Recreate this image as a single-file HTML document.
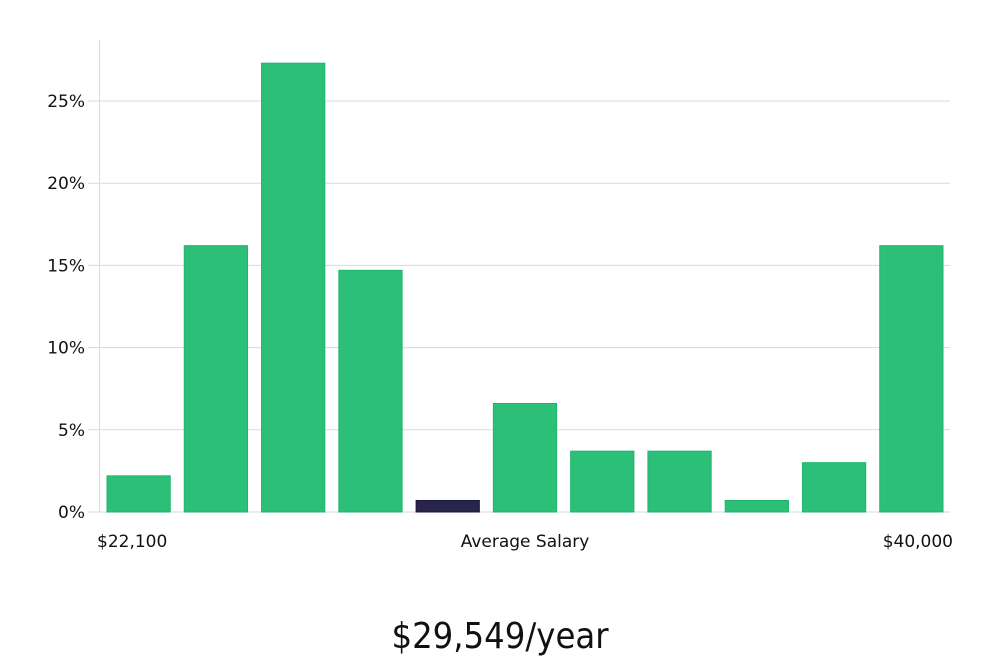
<!DOCTYPE html>
<html><head><meta charset="utf-8"><style>
body{margin:0;background:#fff;width:1000px;height:660px;overflow:hidden}
svg text{font-family:"DejaVu Sans","Liberation Sans",sans-serif}
</style></head><body>
<svg id="chart" width="1000" height="660" xmlns="http://www.w3.org/2000/svg">
<g id="grid"></g><g id="bars"></g><g id="labels"></g>
<text x="500" y="648" text-anchor="middle" font-size="36" fill="#111" style="font-family:'Liberation Sans Narrow','DejaVu Sans Condensed','Liberation Sans',sans-serif">$29,549/year</text>
</svg>
<script>
const categories=["b1","b2","b3","b4","b5","b6","b7","b8","b9","b10","b11"];
const values=[2.2,16.2,27.3,14.7,0.7,6.6,3.7,3.7,0.7,3.0,16.2];
const highlight=[false,false,false,false,true,false,false,false,false,false,false];
const yTicks=[0,5,10,15,20,25];
const xLabels=["$22,100","Average Salary","$40,000"];
const NS="http://www.w3.org/2000/svg";
const x0=100,x1=950,yBase=512,pxPer=16.44;
const y=v=>yBase-v*pxPer;
const band=(x1-x0)/categories.length;
const bx=i=>x0+i*band+7;
function mk(t,a,p){const e=document.createElementNS(NS,t);for(const k in a)e.setAttribute(k,a[k]);p.appendChild(e);return e;}
const grid=document.getElementById('grid'),bars=document.getElementById('bars'),labels=document.getElementById('labels');
yTicks.forEach(t=>{
  const l=mk('line',{x1:88,x2:950,y1:y(t),y2:y(t),stroke:'#d9d9d9','stroke-width':1},grid);
  
  
  const tx=mk('text',{x:85,y:y(t)+6,'text-anchor':'end','font-size':17,fill:'#111'},labels);
  tx.textContent=t+'%';
  
  
});
const ax=mk('line',{x1:99.5,x2:99.5,y1:40,y2:512,stroke:'#d9d9d9','stroke-width':1},grid);


values.forEach((v,i)=>{
  const r=mk('rect',{x:bx(i),y:y(v),width:band-14,height:v*pxPer,fill:highlight[i]?'#29244a':'#2bbf78',stroke:highlight[i]?'#1b1838':'#22b46d','stroke-width':1},bars);
  
  
});
const xl=[[97,'start'],[525,'middle'],[953,'end']];
xLabels.forEach((s,i)=>{
  const t=mk('text',{x:xl[i][0],y:547,'text-anchor':xl[i][1],'font-size':17,fill:'#111'},labels);
  t.textContent=s;
  
  
});
</script>
</body></html>
